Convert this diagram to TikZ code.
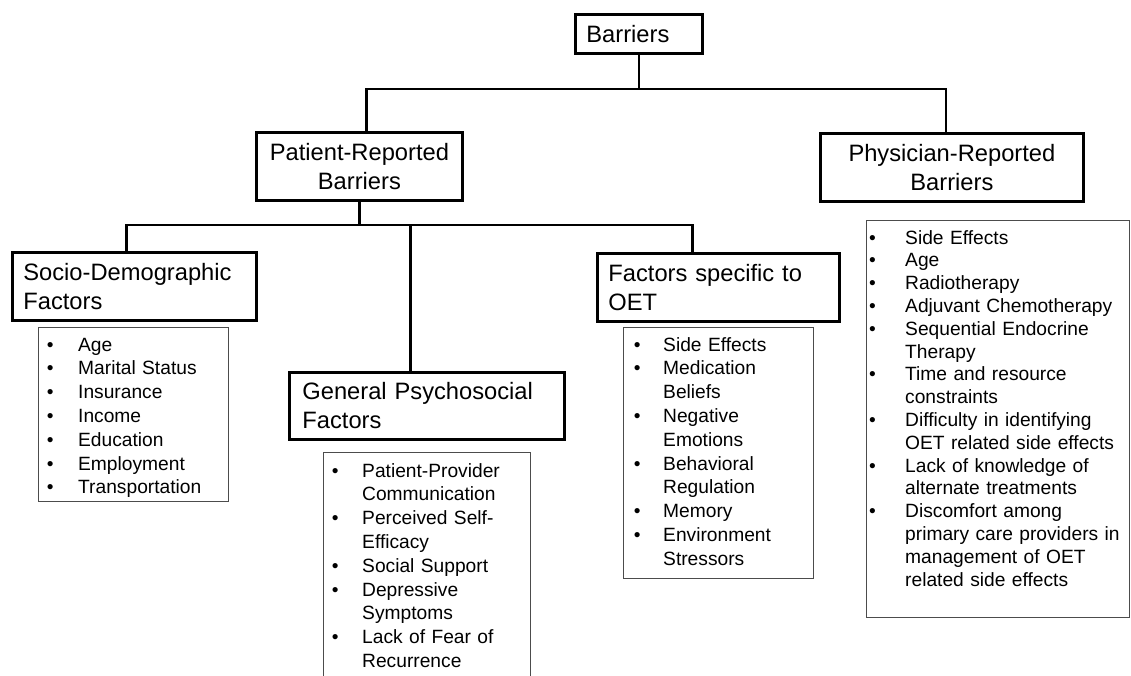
\documentclass[tikz,border=0pt]{standalone}
\usepackage{fontspec}
\setmainfont{Liberation Sans}
\newlength{\bwd}
\newcommand{\bl}[1]{\makebox[\bwd][l]{•}#1}
\newcommand{\cl}[1]{\hspace*{\bwd}#1}
\tikzset{
  head/.style={draw, line width=2.8pt, anchor=north west, inner xsep=11pt, inner ysep=0pt,
    font=\fontsize{23.7}{29}\selectfont, align=left},
  listbox/.style={draw=black!70, line width=1.3pt, anchor=north west, inner sep=0pt},
  listtext/.style={anchor=base west, inner sep=0pt, font=\fontsize{19.2}{23.8}\selectfont,
    align=left, text width=300pt},
  conn/.style={line width=2.8pt}
}
\begin{document}
\begin{tikzpicture}[x=1pt,y=-1pt]
\useasboundingbox (0,0) rectangle (1131,676);
\fill[white] (0,0) rectangle (1131,676);

% heading boxes
\node[head, text width=105pt, minimum height=39pt] (barriers) at (574,13) {Barriers};
\node[head, text width=184pt, minimum height=68pt, align=center] (patient) at (255,131) {Patient-Reported\\Barriers};
\node[head, text width=241pt, minimum height=68pt, align=center] (physician) at (819,132) {Physician-Reported\\Barriers};
\node[head, text width=222pt, minimum height=68pt] (socio) at (11,251) {Socio-Demographic\\Factors};
\node[head, inner xsep=13pt, text width=249pt, minimum height=67pt] (general) at (288,371) {General Psychosocial\\Factors};
\node[head, text width=220pt, minimum height=68pt] (oet) at (596,252) {Factors specific to\\OET};

% connectors
\coordinate (bus1) at (637,89);
\coordinate (bus2) at (358,225);
\draw[conn] (barriers.south) -- (barriers.south |- bus1);
\draw[conn] ([xshift=7pt]patient.north) |- (bus1) -| ([xshift=-6pt]physician.north);
\draw[conn] (patient.south) -- (patient.south |- bus2);
\draw[conn] ([xshift=-8pt]socio.north) |- (bus2) -| ([xshift=-26pt]oet.north);
\draw[conn] ([xshift=-16.5pt]general.north) |- (bus2);

% list boxes
\node[listbox, minimum width=190pt, minimum height=174pt] (sdbox) at (38,327) {};
\node[listbox, minimum width=207pt, minimum height=245pt] (gpbox) at (323,452) {};
\node[listbox, minimum width=190pt, minimum height=251pt] (oetbox) at (623,327) {};
\node[listbox, minimum width=263pt, minimum height=397pt] (phbox) at (866,220) {};

% list texts
\node[listtext] (sdlist) at (46.6,351) {\setlength{\bwd}{31.4pt}%
\bl{Age}\\ \bl{Marital Status}\\ \bl{Insurance}\\ \bl{Income}\\ \bl{Education}\\ \bl{Employment}\\ \bl{Transportation}};

\node[listtext] (gplist) at (331.6,477) {\setlength{\bwd}{30.4pt}%
\bl{Patient-Provider}\\ \cl{Communication}\\ \bl{Perceived Self-}\\ \cl{Efficacy}\\ \bl{Social Support}\\ \bl{Depressive}\\ \cl{Symptoms}\\ \bl{Lack of Fear of}\\ \cl{Recurrence}};

\node[listtext] (oetlist) at (633.6,351) {\setlength{\bwd}{29.4pt}%
\bl{Side Effects}\\ \bl{Medication}\\ \cl{Beliefs}\\ \bl{Negative}\\ \cl{Emotions}\\ \bl{Behavioral}\\ \cl{Regulation}\\ \bl{Memory}\\ \bl{Environment}\\ \cl{Stressors}};

\node[listtext, font=\fontsize{19.2}{22.8}\selectfont] (phlist) at (869,244) {\setlength{\bwd}{36pt}%
\bl{Side Effects}\\ \bl{Age}\\ \bl{Radiotherapy}\\ \bl{Adjuvant Chemotherapy}\\ \bl{Sequential Endocrine}\\ \cl{Therapy}\\ \bl{Time and resource}\\ \cl{constraints}\\ \bl{Difficulty in identifying}\\ \cl{OET related side effects}\\ \bl{Lack of knowledge of}\\ \cl{alternate treatments}\\ \bl{Discomfort among}\\ \cl{primary care providers in}\\ \cl{management of OET}\\ \cl{related side effects}};
\end{tikzpicture}
\end{document}
